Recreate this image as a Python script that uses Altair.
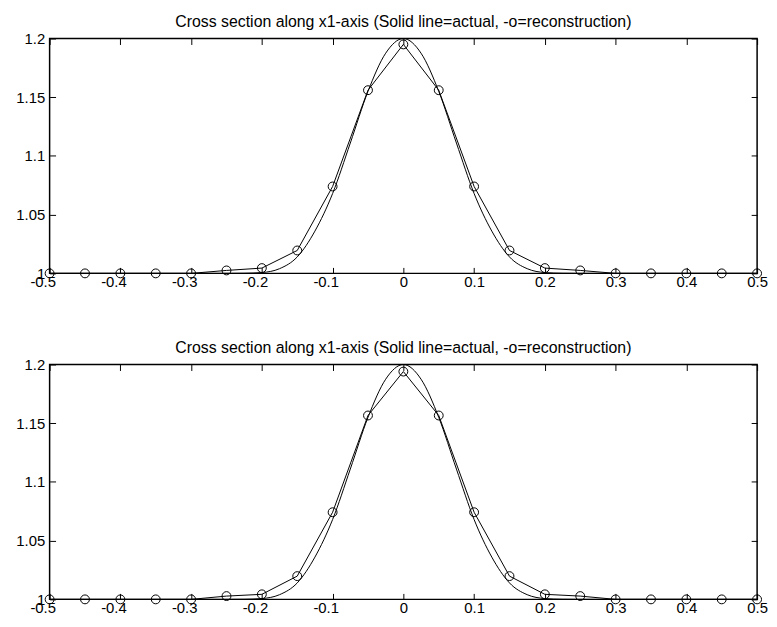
import altair as alt
import pandas as pd

# x positions of the "actual" (solid) curve samples
actual_x = [-0.5, -0.475, -0.45, -0.425, -0.4, -0.375, -0.35, -0.325, -0.3, -0.275,
            -0.25, -0.225, -0.2, -0.175, -0.15, -0.125, -0.1, -0.075, -0.05, -0.025,
            0.0, 0.025, 0.05, 0.075, 0.1, 0.125, 0.15, 0.175, 0.2, 0.225,
            0.25, 0.275, 0.3, 0.325, 0.35, 0.375, 0.4, 0.425, 0.45, 0.475, 0.5]
actual_top = [1.0, 1.0, 1.0, 1.0, 1.0, 1.0, 1.0, 1.0, 1.0, 1.0,
              1.0, 1.0001, 1.0007, 1.004, 1.014, 1.036, 1.068, 1.111, 1.155, 1.1875,
              1.2, 1.1875, 1.155, 1.111, 1.068, 1.036, 1.014, 1.004, 1.0007, 1.0001,
              1.0, 1.0, 1.0, 1.0, 1.0, 1.0, 1.0, 1.0, 1.0, 1.0, 1.0]
actual_bottom = list(actual_top)

# reconstruction samples (-o)
recon_x = [-0.5, -0.45, -0.4, -0.35, -0.3, -0.25, -0.2, -0.15, -0.1, -0.05, 0.0,
           0.05, 0.1, 0.15, 0.2, 0.25, 0.3, 0.35, 0.4, 0.45, 0.5]
recon_top = [1.0, 1.0, 1.0, 1.0, 1.0, 1.0025, 1.0045, 1.0195, 1.074, 1.156, 1.195,
             1.156, 1.074, 1.0195, 1.0045, 1.0025, 1.0, 1.0, 1.0, 1.0, 1.0]
recon_bottom = [1.0, 1.0, 1.0, 1.0, 1.0, 1.0028, 1.0043, 1.0198, 1.0742, 1.1566, 1.194,
                1.1566, 1.0742, 1.0198, 1.0043, 1.0028, 1.0, 1.0, 1.0, 1.0, 1.0]

x_ticks = [-0.5, -0.4, -0.3, -0.2, -0.1, 0.0, 0.1, 0.2, 0.3, 0.4, 0.5]
y_ticks = [1.0, 1.05, 1.1, 1.15, 1.2]

title_text = "Cross section along x1-axis (Solid line=actual, -o=reconstruction)"

FONT = "Liberation Sans"
W, H = 714, 237
TICK = 6
LABEL_SIZE = 15

label_expr = ("datum.value == 0 ? '0' : (datum.value < 0 ? '-' + format(-datum.value, '~g')"
              " : format(datum.value, '~g'))")

xs = alt.Scale(domain=[-0.5, 0.5], nice=False, zero=False)
ys = alt.Scale(domain=[1.0, 1.2], nice=False, zero=False)


def panel(actual_y, recon_y):
    df_a = pd.DataFrame({"x": actual_x, "y": actual_y})
    df_r = pd.DataFrame({"x": recon_x, "y": recon_y})

    ax_bottom = alt.Axis(values=x_ticks, orient="bottom", offset=-TICK, tickSize=TICK,
                         domain=False, grid=False, labelPadding=1, labelExpr=label_expr,
                         labelFlush=False, labelOverlap=False,
                         labelOffset={"condition": {"test": "datum.value < 0", "value": -7},
                                      "value": 0},
                         labelFont=FONT, labelFontSize=LABEL_SIZE, labelColor="black",
                         tickColor="black", minExtent=0, title=None)
    ax_left = alt.Axis(values=y_ticks, orient="left", offset=-TICK, tickSize=TICK,
                       domain=False, grid=False, labelPadding=5, labelExpr=label_expr,
                       labelFlush=False, labelOverlap=False,
                       labelFont=FONT, labelFontSize=LABEL_SIZE, labelColor="black",
                       tickColor="black", minExtent=0, title=None)
    ax_top = alt.Axis(values=x_ticks, orient="top", offset=-TICK, tickSize=TICK,
                      domain=False, grid=False, labels=False, tickColor="black",
                      minExtent=0, maxExtent=0, title=None)
    ax_right = alt.Axis(values=y_ticks, orient="right", offset=-TICK, tickSize=TICK,
                        domain=False, grid=False, labels=False, tickColor="black",
                        minExtent=0, maxExtent=0, title=None)

    actual = alt.Chart(df_a).mark_line(color="black", strokeWidth=1, interpolate="monotone").encode(
        x=alt.X("x:Q", scale=xs, axis=ax_bottom),
        y=alt.Y("y:Q", scale=ys, axis=ax_left),
    )
    recon_line = alt.Chart(df_r).mark_line(color="black", strokeWidth=1).encode(
        x=alt.X("x:Q", scale=xs, axis=ax_top),
        y=alt.Y("y:Q", scale=ys, axis=ax_right),
    )
    recon_pts = alt.Chart(df_r).mark_point(shape="circle", filled=False, color="black",
                                           size=80, strokeWidth=1, opacity=1).encode(
        x=alt.X("x:Q", scale=xs, axis=None),
        y=alt.Y("y:Q", scale=ys, axis=None),
    )
    return alt.layer(actual, recon_line, recon_pts).resolve_axis(
        x="independent", y="independent"
    ).properties(
        width=W, height=H,
        title=alt.TitleParams(title_text, font=FONT, fontSize=16, fontWeight="normal",
                              color="black", offset=2, anchor="middle"),
    )


chart = alt.vconcat(panel(actual_top, recon_top), panel(actual_bottom, recon_bottom),
                    spacing=49).configure_view(
    stroke="black", strokeWidth=1.5
).properties(
    padding={"left": 7, "top": 2, "right": 0, "bottom": 0}
)

chart.save("out.html", embed_options={"renderer": "svg", "actions": False})
